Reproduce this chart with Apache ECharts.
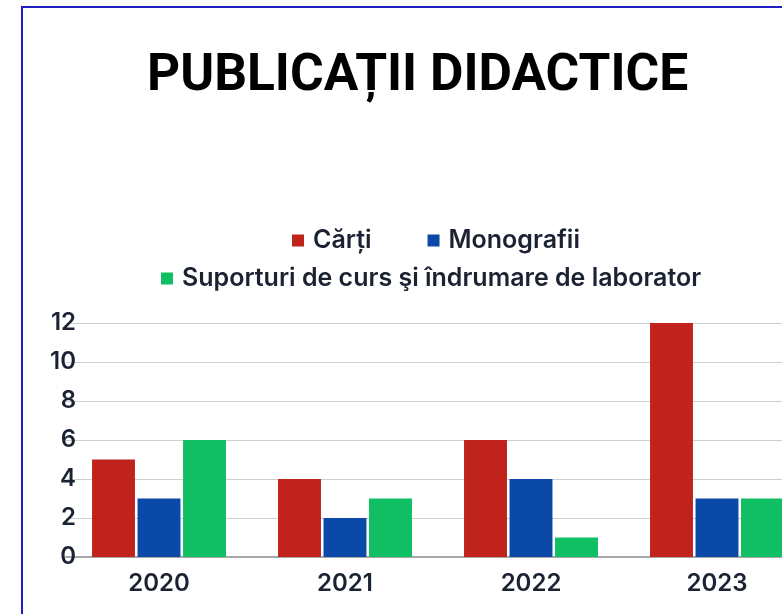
<!DOCTYPE html>
<html>
<head>
<meta charset="utf-8">
<script src="https://cdn.jsdelivr.net/npm/echarts@6/dist/echarts.min.js"></script>
<style>
  html, body { margin: 0; padding: 0; background: #fff; overflow: hidden; }
  #frame {
    position: absolute; left: 21px; top: 6px; width: 900px; height: 700px;
    border-left: 2px solid #1f1fc4; border-top: 2px solid #1f1fc4;
  }
  #chart { position: absolute; left: 0; top: 0; width: 840px; height: 614px; }
</style>
</head>
<body>
<div id="frame"></div>
<div id="chart"></div>
<script>
// date grafic
const years = ['2020', '2021', '2022', '2023'];
const carti = [5, 4, 6, 12];
const monografii = [3, 2, 4, 3];
const suporturi = [6, 3, 1, 3];
const yTicks = [0, 2, 4, 6, 8, 10, 12];

const names = ['Cărți', 'Monografii', 'Suporturi de curs şi îndrumare de laborator'];
const colors = ['#c0231b', '#0b49a9', '#10be63'];
const ink = '#1b2333';
const font = 'Inter';

let chart = echarts.init(document.getElementById('chart'), null, { renderer: 'canvas' });

let legendText = { fontFamily: font, fontWeight: 600, fontSize: 25, color: ink, padding: [0, 0, 0, 4] };

let option = {
  animation: false,
  color: colors,
  title: {
    text: 'PUBLICAȚII DIDACTICE',
    left: 142,
    top: 46,
    textStyle: { fontFamily: 'Roboto', fontWeight: 'bold', fontSize: 51.5, color: '#000' }
  },
  legend: [
    {
      data: [names[0], names[1]],
      left: 287, top: 223,
      icon: 'rect', itemWidth: 12, itemHeight: 12, itemGap: 56,
      textStyle: legendText
    },
    {
      data: [names[2]],
      left: 156, top: 261,
      icon: 'rect', itemWidth: 12, itemHeight: 12,
      textStyle: legendText
    }
  ],
  grid: { left: 66, right: 30, top: 323, bottom: 57, containLabel: false },
  xAxis: {
    type: 'category',
    data: years,
    axisTick: { show: false },
    axisLine: { lineStyle: { color: '#a8a8a8', width: 2 } },
    axisLabel: { fontFamily: font, fontWeight: 600, fontSize: 24, color: ink, margin: 15 }
  },
  yAxis: {
    type: 'value',
    min: yTicks[0],
    max: yTicks[yTicks.length - 1],
    interval: 2,
    offset: -10,
    axisLine: { show: false },
    axisTick: { show: false },
    splitLine: { lineStyle: { color: '#cfcfcf', width: 1 } },
    axisLabel: { fontFamily: font, fontWeight: 600, fontSize: 24, color: ink, margin: 0 }
  },
  graphic: [
    // acopera capatul stang al liniilor de grila (ca in original)
    { type: 'rect', left: 66, top: 318, shape: { width: 26, height: 242 }, style: { fill: '#fff' }, z: 0 }
  ],
  series: [
    { name: names[0], type: 'bar', data: carti, barGap: '6%', barCategoryGap: '28%' },
    { name: names[1], type: 'bar', data: monografii },
    { name: names[2], type: 'bar', data: suporturi }
  ]
};

chart.setOption(option);
</script>
</body>
</html>
